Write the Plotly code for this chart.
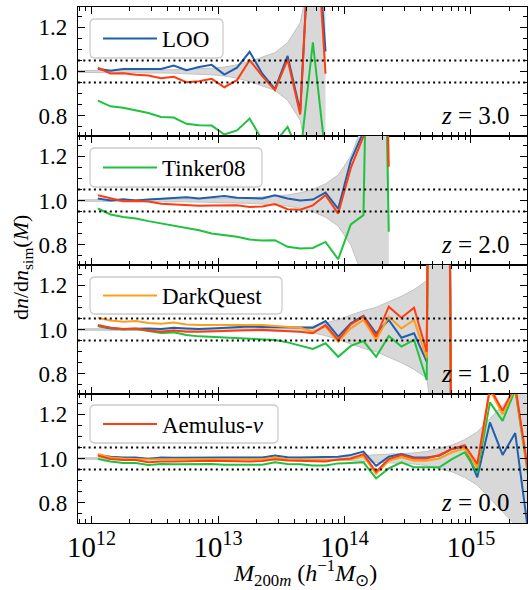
import plotly.graph_objects as go
from plotly.subplots import make_subplots

# ---------------- data ----------------
# log10 of halo mass bin centres (h^-1 Msun) per redshift panel
logm_z3 = [12.05, 12.15, 12.25, 12.35, 12.45, 12.55, 12.65, 12.75, 12.85, 12.95,
           13.05, 13.15, 13.25, 13.35, 13.45, 13.55, 13.65, 13.75, 13.85]
logm_z2 = logm_z3 + [13.95, 14.05, 14.15, 14.25, 14.35]
logm_z1 = logm_z2 + [14.45, 14.55, 14.65, 14.75, 14.85]
logm_z0 = logm_z1 + [14.95, 15.05, 15.15, 15.25, 15.35, 15.45]

# ratios dn/dn_sim
loo_z3 = [1.012, 1.003, 1.011, 1.012, 1.013, 1.011, 1.027, 1.006, 1.020, 1.030,
          0.986, 1.017, 1.089, 0.990, 0.920, 1.070, 0.820, 1.900, 1.090]
tinker_z3 = [0.869, 0.843, 0.836, 0.824, 0.813, 0.795, 0.792, 0.764, 0.758, 0.756,
             0.716, 0.734, 0.788, 0.690, 0.680, 0.750, 0.620, 1.132, 0.620]
aemulus_z3 = [1.017, 0.991, 0.992, 0.985, 0.982, 0.970, 0.976, 0.952, 0.956, 0.967,
              0.929, 0.961, 1.051, 0.979, 0.916, 1.054, 0.806, 1.900, 0.990]

loo_z2 = [1.009, 1.000, 1.006, 1.000, 1.004, 1.007, 1.009, 1.015, 1.009, 1.015,
          1.020, 1.012, 1.012, 1.009, 1.024, 1.009, 1.000, 1.004, 1.036, 0.962,
          1.180, 1.310, 4.000, 1.350]
tinker_z2 = [0.964, 0.937, 0.926, 0.919, 0.907, 0.896, 0.886, 0.877, 0.866, 0.851,
             0.843, 0.836, 0.824, 0.819, 0.821, 0.791, 0.783, 0.786, 0.813, 0.735,
             0.892, 0.934, 4.000, 0.859]
aemulus_z2 = [1.024, 1.009, 0.997, 0.998, 0.995, 0.985, 0.982, 0.982, 0.976, 0.977,
              0.979, 0.979, 0.971, 0.973, 0.984, 0.961, 0.958, 0.978, 1.024, 0.941,
              1.147, 1.290, 4.000, 1.152]

loo_z1 = [1.016, 1.005, 1.002, 1.005, 1.005, 1.002, 1.008, 1.005, 1.002, 1.005,
          1.008, 1.011, 1.013, 1.011, 1.011, 1.011, 1.011, 1.008, 1.038, 0.968,
          1.028, 1.062, 0.983, 1.043, 0.963, 0.983, 0.855, 8.000, 0.000]
tinker_z1 = [1.016, 1.008, 1.000, 1.002, 0.993, 0.984, 0.987, 0.975, 0.969, 0.966,
             0.963, 0.960, 0.960, 0.957, 0.953, 0.942, 0.927, 0.912, 0.938, 0.877,
             0.926, 0.948, 0.877, 0.971, 0.923, 0.953, 0.772, 8.000, 0.000]
darkquest_z1 = [1.053, 1.041, 1.035, 1.038, 1.029, 1.026, 1.032, 1.023, 1.020, 1.020,
                1.020, 1.020, 1.020, 1.020, 1.016, 1.011, 1.008, 0.990, 1.013, 0.945,
                1.005, 1.043, 0.953, 1.058, 1.005, 1.043, 0.870, 8.000, 0.000]
aemulus_z1 = [1.020, 1.008, 1.002, 1.005, 0.996, 0.990, 0.996, 0.990, 0.990, 0.990,
              0.993, 0.995, 0.998, 0.999, 0.996, 0.993, 0.990, 0.983, 1.020, 0.953,
              1.023, 1.058, 0.968, 1.103, 1.053, 1.098, 0.900, 8.000, 0.000]

loo_z0 = [1.016, 1.008, 1.004, 1.004, 0.998, 1.004, 1.003, 1.004, 1.004, 1.004,
          1.004, 1.004, 1.004, 1.004, 1.013, 1.006, 1.005, 1.005, 1.005, 1.008,
          1.016, 1.031, 0.967, 1.008, 1.020, 1.005, 1.005, 1.013, 1.043, 1.055,
          0.915, 1.163, 1.016, 1.115, 0.680]
tinker_z0 = [0.998, 0.986, 0.980, 0.980, 0.971, 0.975, 0.974, 0.975, 0.975, 0.975,
             0.972, 0.971, 0.971, 0.972, 0.983, 0.975, 0.974, 0.968, 0.968, 0.978,
             0.980, 0.983, 0.910, 0.955, 0.983, 0.960, 0.960, 0.960, 0.997, 1.028,
             0.937, 1.253, 1.170, 1.310, 0.930]
darkquest_z0 = [1.020, 1.005, 1.000, 0.998, 0.995, 0.997, 0.997, 0.998, 0.998, 0.998,
                0.997, 0.996, 0.996, 0.997, 1.005, 0.997, 0.995, 0.995, 0.995, 0.993,
                0.997, 1.010, 0.930, 0.990, 1.005, 0.990, 0.990, 1.000, 1.028, 1.045,
                0.960, 1.310, 1.200, 1.320, 0.940]
aemulus_z0 = [1.013, 0.998, 0.993, 0.993, 0.983, 0.987, 0.986, 0.989, 0.989, 0.990,
              0.989, 0.987, 0.987, 0.989, 0.997, 0.991, 0.990, 0.986, 0.986, 0.995,
              1.000, 1.020, 0.940, 0.997, 1.016, 1.000, 1.000, 1.016, 1.043, 1.060,
              0.975, 1.320, 1.216, 1.330, 0.950]

# simulation scatter band (half width around 1), grid starts below first bin
band_logm_z3 = [11.85] + logm_z3
band_logm_z2 = [11.85] + logm_z2
band_logm_z1 = [11.85] + logm_z1
band_logm_z0 = [11.85] + logm_z0
band_z3 = [0.004, 0.004, 0.004, 0.005, 0.005, 0.006, 0.007, 0.008, 0.010, 0.012,
           0.015, 0.020, 0.030, 0.045, 0.065, 0.085, 0.130, 0.220, 0.500, 0.800]
band_z2 = [0.003, 0.003, 0.003, 0.003, 0.004, 0.004, 0.005, 0.005, 0.006, 0.007,
           0.008, 0.009, 0.011, 0.013, 0.016, 0.020, 0.025, 0.035, 0.050, 0.075,
           0.115, 0.200, 0.350, 0.600, 0.800]
band_z1 = [0.003, 0.003, 0.003, 0.003, 0.003, 0.003, 0.004, 0.004, 0.004, 0.005,
           0.005, 0.005, 0.006, 0.006, 0.007, 0.008, 0.009, 0.011, 0.015, 0.028,
           0.045, 0.065, 0.085, 0.100, 0.125, 0.150, 0.180, 0.220, 0.600, 0.800]
band_z0 = [0.003, 0.003, 0.003, 0.003, 0.003, 0.003, 0.003, 0.003, 0.003, 0.004,
           0.004, 0.004, 0.004, 0.005, 0.005, 0.005, 0.005, 0.006, 0.006, 0.007,
           0.008, 0.010, 0.014, 0.016, 0.018, 0.020, 0.025, 0.032, 0.045, 0.060,
           0.085, 0.120, 0.180, 0.240, 0.300, 0.380]

redshift_labels = ["3.0", "2.0", "1.0", "0.0"]
tolerance_lines = [1.05, 0.95]
yticks = [0.8, 1.0, 1.2]

# ---------------- figure ----------------
W, H = 528, 590
ML, MR, MT, MB = 78, 1, 7, 67
PW, PH = W - ML - MR, H - MT - MB

FONT = "Liberation Serif, Times New Roman, serif"
C_LOO, C_TINKER, C_DQ, C_AEM = "#1f5fab", "#1ec23e", "#ff9d1c", "#ff3d10"

panels = [
    dict(logm=logm_z3, band_logm=band_logm_z3, band=band_z3,
         series=[("LOO", loo_z3, C_LOO), ("Tinker08", tinker_z3, C_TINKER),
                 ("Aemulus-ν", aemulus_z3, C_AEM)], legend_name="LOO"),
    dict(logm=logm_z2, band_logm=band_logm_z2, band=band_z2,
         series=[("LOO", loo_z2, C_LOO), ("Tinker08", tinker_z2, C_TINKER),
                 ("Aemulus-ν", aemulus_z2, C_AEM)], legend_name="Tinker08"),
    dict(logm=logm_z1, band_logm=band_logm_z1, band=band_z1,
         series=[("LOO", loo_z1, C_LOO), ("Tinker08", tinker_z1, C_TINKER),
                 ("DarkQuest", darkquest_z1, C_DQ), ("Aemulus-ν", aemulus_z1, C_AEM)],
         legend_name="DarkQuest"),
    dict(logm=logm_z0, band_logm=band_logm_z0, band=band_z0,
         series=[("LOO", loo_z0, C_LOO), ("Tinker08", tinker_z0, C_TINKER),
                 ("DarkQuest", darkquest_z0, C_DQ), ("Aemulus-ν", aemulus_z0, C_AEM)],
         legend_name="Aemulus-ν"),
]
legend_text = {"LOO": "LOO", "Tinker08": "Tinker08", "DarkQuest": "DarkQuest",
               "Aemulus-ν": "Aemulus-<i>ν</i>"}

fig = make_subplots(rows=4, cols=1, shared_xaxes=True, vertical_spacing=0)

legend_keys = ["legend", "legend2", "legend3", "legend4"]
for i, p in enumerate(panels):
    r = i + 1
    bm = [10 ** v for v in p["band_logm"]]
    lo = [1 - b for b in p["band"]]
    hi = [1 + b for b in p["band"]]
    fig.add_trace(go.Scatter(x=bm, y=lo, mode="lines", line=dict(color="#c2c2c2", width=1),
                             showlegend=False, hoverinfo="skip"), row=r, col=1)
    fig.add_trace(go.Scatter(x=bm, y=hi, mode="lines", line=dict(color="#c2c2c2", width=1),
                             fill="tonexty", fillcolor="#d8d8d8",
                             showlegend=False, hoverinfo="skip"), row=r, col=1)
    m = [10 ** v for v in p["logm"]]
    for name, vals, col in p["series"]:
        fig.add_trace(go.Scatter(x=m, y=vals, mode="lines", name=legend_text[name],
                                 line=dict(color=col, width=2),
                                 showlegend=(name == p["legend_name"]),
                                 legend=legend_keys[i]), row=r, col=1)
    for yl in tolerance_lines:
        fig.add_hline(y=yl, row=r, col=1, line=dict(color="black", width=2, dash="2px,3.3px"),
                      layer="above")
    fig.add_annotation(text="<i>z</i> = " + redshift_labels[i], xref=f"x{'' if r == 1 else r} domain",
                       x=(512 - ML) / PW, xanchor="right", yref=f"y{'' if r == 1 else r}", y=0.8,
                       yanchor="middle", showarrow=False,
                       font=dict(family=FONT, size=25, color="black"))

axis_common = dict(showline=True, linecolor="black", linewidth=1.2, mirror="ticks",
                   ticks="inside", tickcolor="black", tickwidth=1, showgrid=False,
                   zeroline=False, automargin=False,
                   tickfont=dict(family=FONT, size=23, color="black"))
for r in range(1, 5):
    fig.update_xaxes(type="log", range=[11.893, 15.443], dtick=1, exponentformat="power",
                     ticklen=7, minor=dict(ticks="inside", ticklen=4, dtick="D1",
                                           tickcolor="black", tickwidth=1, showgrid=False),
                     showticklabels=(r == 4), ticklabelstandoff=0,
                     row=r, col=1, **axis_common)
    fig.update_yaxes(range=[0.709, 1.291], tickvals=yticks, ticktext=[f"{v:.1f}" for v in yticks],
                     ticklen=7, minor=dict(ticks="inside", ticklen=4, dtick=0.05, tick0=0.7,
                                           tickcolor="black", tickwidth=1, showgrid=False),
                     ticklabelstandoff=5, row=r, col=1, **axis_common)

# legend boxes (rounded), in pixel coordinates of the figure
boxes = [(90, 19, 223, 58), (90, 148, 262, 187), (90, 277, 282, 314), (90, 405, 278, 443)]
def px2paper(x, y):
    return (x - ML) / PW, 1 - (y - MT) / PH
rad = 5
for i, (x0, y0, x1, y1) in enumerate(boxes):
    rx, ry = rad / PW, rad / PH
    X0, Y0 = px2paper(x0, y0)
    X1, Y1 = px2paper(x1, y1)
    path = (f"M{X0+rx},{Y0} L{X1-rx},{Y0} Q{X1},{Y0} {X1},{Y0-ry} L{X1},{Y1+ry} "
            f"Q{X1},{Y1} {X1-rx},{Y1} L{X0+rx},{Y1} Q{X0},{Y1} {X0},{Y1+ry} "
            f"L{X0},{Y0-ry} Q{X0},{Y0} {X0+rx},{Y0} Z")
    fig.add_shape(type="path", path=path, xref="paper", yref="paper",
                  fillcolor="rgba(255,255,255,0.8)", line=dict(color="#cccccc", width=1.3),
                  layer="above")
    cx, cy = px2paper(98, (y0 + y1) / 2)
    fig.update_layout({legend_keys[i]: dict(x=cx, y=cy, xanchor="left", yanchor="middle",
                                            xref="paper", yref="paper",
                                            bgcolor="rgba(0,0,0,0)", borderwidth=0,
                                            itemwidth=54, tracegroupgap=0,
                                            font=dict(family=FONT, size=23, color="black"))})

# axis titles
fig.add_annotation(text="d<i>n</i>/d<i>n</i><sub>sim</sub>(<i>M</i>)", textangle=-90,
                   xref="paper", yref="paper", x=(22 - ML) / PW, y=1 - (268 - MT) / PH,
                   xanchor="center", yanchor="middle", showarrow=False,
                   font=dict(family=FONT, size=22, color="black"))
fig.add_annotation(text="<i>M</i><sub>200<i>m</i></sub> (<i>h</i><sup>−1</sup><i>M</i><sub>⊙</sub>)",
                   xref="paper", yref="paper", x=(305 - ML) / PW, y=1 - (573 - MT) / PH,
                   xanchor="center", yanchor="middle", showarrow=False,
                   font=dict(family=FONT, size=24, color="black"))

fig.update_layout(width=W, height=H, margin=dict(l=ML, r=MR, t=MT, b=MB, autoexpand=False),
                  paper_bgcolor="white", plot_bgcolor="white", showlegend=True)

fig.write_html("out.html", config={"displayModeBar": False},
               post_script="document.body.style.margin='0px';document.body.style.padding='0px';"
                           "document.documentElement.style.overflow='hidden';")
